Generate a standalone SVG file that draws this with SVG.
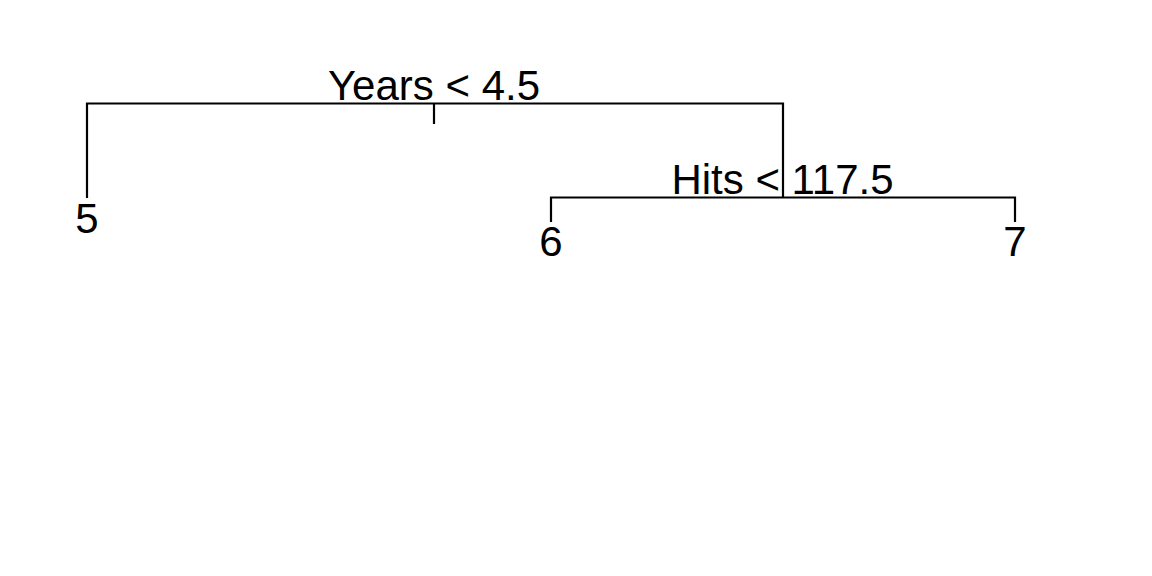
<svg xmlns="http://www.w3.org/2000/svg" width="1152" height="576" viewBox="0 0 1152 576">
<style>
.ln{stroke:#000;stroke-width:2.2;fill:none;stroke-linecap:butt}
.t{font-family:"Liberation Sans",Arial,sans-serif;font-size:42px;fill:#000;text-anchor:middle}
</style>
<rect width="1152" height="576" fill="#fff"/>
<g id="connectors">
<line class="ln" x1="434" y1="103.5" x2="434" y2="124"/>
<polyline class="ln" points="87,198 87,103.5 783,103.5 783,197.5"/>
<polyline class="ln" points="551,222 551,197.5 1015,197.5 1015,222"/>
</g>
<g id="node-root"><text class="t" x="434" y="99.5">Years &lt; 4.5</text></g>
<g id="node-hits"><text class="t" x="782.5" y="193.5">Hits &lt; 117.5</text></g>
<g id="leaf-5"><text class="t" x="87" y="232.5">5</text></g>
<g id="leaf-6"><text class="t" x="551" y="256">6</text></g>
<g id="leaf-7"><text class="t" x="1015" y="256">7</text></g>
</svg>
